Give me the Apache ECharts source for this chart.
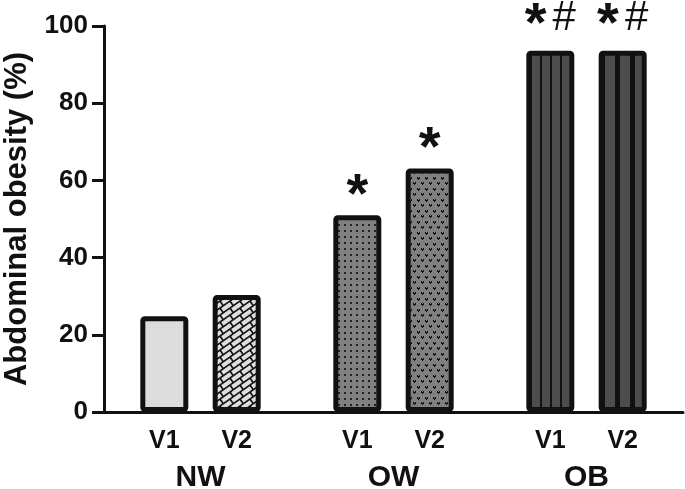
<!DOCTYPE html>
<html><head><meta charset="utf-8">
<script src="https://cdn.jsdelivr.net/npm/echarts@6/dist/echarts.min.js"></script>
<style>html,body{margin:0;padding:0;background:#fff}#c{width:685px;height:489px}</style>
</head><body><div id="c"></div>
<script>
// ---- data ----
const groups = ['NW', 'OW', 'OB'];
const visits = ['V1', 'V2'];
const values = [24.8, 30.3, 51.0, 63.1, 93.6, 93.6];   // NW V1, NW V2, OW V1, OW V2, OB V1, OB V2
const marks  = ['', '', '*', '*', '*#', '*#'];
const yTicks = [0, 20, 40, 60, 80, 100];

// ---- fill patterns ----
function tile(w, h, bg, draw) {
  const c = document.createElement('canvas');
  c.width = w; c.height = h;
  const g = c.getContext('2d');
  g.fillStyle = bg; g.fillRect(0, 0, w, h);
  draw(g, w, h);
  return { image: c, repeat: 'repeat' };
}
const ink = '#111';
function heart(g, x, y) {
  [[0,0],[2,0],[0,1],[1,1],[2,1],[1,2]].forEach(p => g.fillRect(x + p[0], y + p[1], 1, 1));
}
const fills = [
  '#dcdcdc',
  tile(10, 7, '#dedede', (g, w, h) => {
    g.strokeStyle = ink; g.lineWidth = 1.6;
    for (const dx of [-w, 0, w]) for (const dy of [-h, 0, h]) {
      g.beginPath(); g.moveTo(dx, dy + h); g.lineTo(dx + w, dy); g.stroke();
      g.beginPath(); g.moveTo(dx, dy); g.lineTo(dx + 3.3, dy + 4.7); g.stroke();
    }
  }),
  tile(6, 6, '#808080', (g) => { g.fillStyle = '#222'; g.fillRect(2, 2, 2, 2); }),
  tile(8, 11, '#808080', (g) => { g.fillStyle = ink; heart(g, 1, 1); heart(g, 5, 6); }),
  tile(10, 1, '#4d4d4d', (g) => { g.fillStyle = ink; g.fillRect(0, 0, 2, 1); }),
  tile(15, 1, '#4d4d4d', (g) => { g.fillStyle = ink; g.fillRect(0, 0, 5, 1); })
];

// ---- build slotted category axis ----
const NSLOT = 24;
const cats = new Array(NSLOT).fill('');
const barData = new Array(NSLOT).fill('-');
groups.forEach((gname, gi) => {
  visits.forEach((v, vi) => {
    const k = gi * visits.length + vi;
    const slot = 2 + 8 * gi + 3 * vi;
    cats[slot] = v;
    const m = marks[k];
    const rich = m.replace('*', '{a|*}').replace('#', '{b|#}');
    barData[slot] = {
      value: values[k],
      itemStyle: { color: fills[k] },
      label: { show: m !== '', formatter: rich, distance: m.length > 1 ? -3 : -9 }
    };
  });
});
const groupCats = ['', groups[0], '', groups[1], '', groups[2], ''];

const font = 'Liberation Sans, Arial, Helvetica, sans-serif';
const chart = echarts.init(document.getElementById('c'), null, { renderer: 'canvas' });
chart.setOption({
  animation: false,
  backgroundColor: '#fff',
  grid: { left: 104, right: 2, top: 26, bottom: 77, containLabel: false, outerBoundsMode: 'none' },
  xAxis: [{
    type: 'category', data: cats,
    axisLine: { lineStyle: { color: ink, width: 3 } },
    axisTick: { show: false },
    axisLabel: { interval: 0, margin: 17, fontSize: 25, fontWeight: 'bold', color: ink, fontFamily: font }
  }, {
    type: 'category', data: groupCats, boundaryGap: false, position: 'bottom', offset: 0,
    axisLine: { show: false }, axisTick: { show: false }, splitLine: { show: false },
    axisLabel: { interval: 0, margin: 51, fontSize: 30, fontWeight: 'bold', color: ink, fontFamily: font }
  }],
  yAxis: {
    type: 'value', min: yTicks[0], max: yTicks[yTicks.length - 1], interval: yTicks[1] - yTicks[0],
    name: 'Abdominal obesity (%)', nameLocation: 'middle', nameGap: 71,
    nameTextStyle: { fontSize: 31, fontWeight: 'bold', color: ink, fontFamily: font },
    axisLine: { show: true, lineStyle: { color: ink, width: 3 } },
    axisTick: { show: true, length: 12, lineStyle: { color: ink, width: 3 } },
    splitLine: { show: false },
    axisLabel: { margin: 16, fontSize: 26, fontWeight: 'bold', color: ink, fontFamily: font }
  },
  series: [{
    type: 'bar', xAxisIndex: 0, barWidth: 48, data: barData,
    itemStyle: { borderColor: ink, borderWidth: 5, borderRadius: 2 },
    label: {
      position: 'top', color: ink, fontFamily: font,
      rich: {
        a: { fontSize: 56, fontWeight: 'bold', color: ink, fontFamily: font },
        b: { fontSize: 42, lineHeight: 30, fontWeight: 'normal', color: ink, fontFamily: font, padding: [0, 0, 0, 6], verticalAlign: 'top' }
      }
    }
  }]
});
</script></body></html>
